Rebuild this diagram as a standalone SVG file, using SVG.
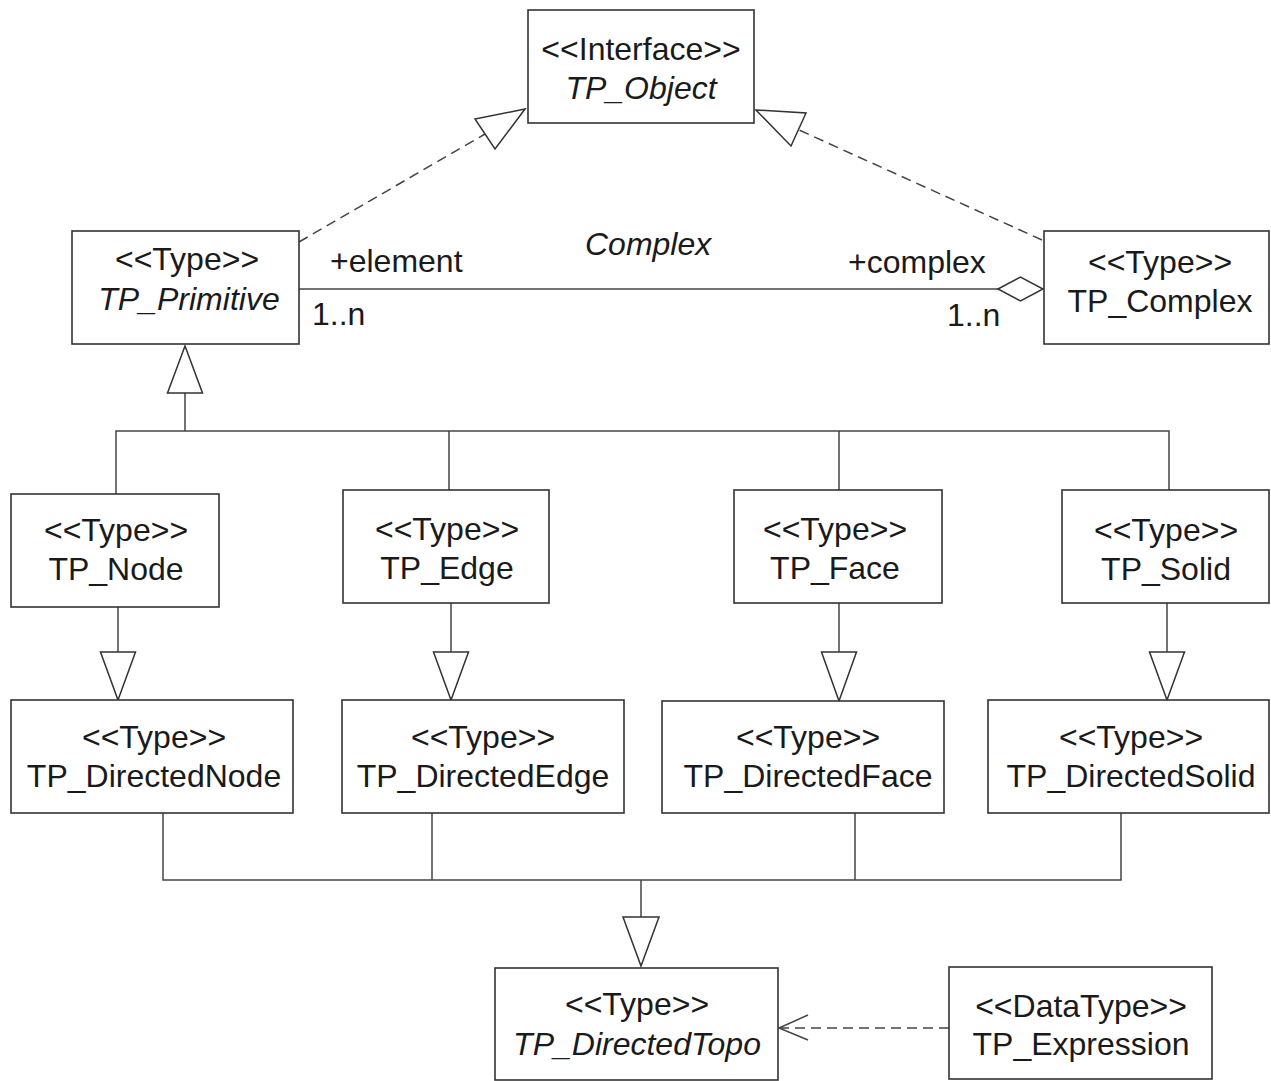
<svg xmlns="http://www.w3.org/2000/svg" width="1271" height="1081" viewBox="0 0 1271 1081">
  <style>
    .box { fill: #ffffff; stroke: #333333; stroke-width: 1.6; }
    .t { font-family: "Liberation Sans", Arial, sans-serif; font-size: 32px; fill: #1a1a1a; text-anchor: middle; }
    .i { font-style: italic; }
    .lbl { font-family: "Liberation Sans", Arial, sans-serif; font-size: 32px; fill: #1a1a1a; }
    .ln { fill: none; stroke: #444444; stroke-width: 1.5; }
    .dash { fill: none; stroke: #444444; stroke-width: 1.5; stroke-dasharray: 10 6; }
    .tri { fill: #ffffff; stroke: #333333; stroke-width: 1.5; stroke-linejoin: miter; }
  </style>

  <!-- connectors -->
  <g id="connectors">
    <!-- realization: TP_Primitive -> TP_Object -->
    <line class="dash" x1="299" y1="242" x2="485" y2="134"/>
    <polygon class="tri" points="525,109 475,119 495,149"/>
    <!-- realization: TP_Complex -> TP_Object -->
    <line class="dash" x1="1042" y1="240" x2="799" y2="130"/>
    <polygon class="tri" points="756,110 806,113 791,146"/>

    <!-- association Complex (aggregation at TP_Complex) -->
    <line class="ln" x1="299" y1="289" x2="998" y2="289"/>
    <polygon class="tri" points="998,289 1020.5,277 1043,289 1020.5,301"/>
    <text class="lbl i" x="585" y="255">Complex</text>
    <text class="lbl" x="330" y="272">+element</text>
    <text class="lbl" x="312" y="325">1..n</text>
    <text class="lbl" x="848" y="273">+complex</text>
    <text class="lbl" x="947" y="326">1..n</text>

    <!-- generalization tree to TP_Primitive -->
    <polyline class="ln" points="116,494 116,431 1169,431 1169,490"/>
    <line class="ln" x1="449" y1="431" x2="449" y2="490"/>
    <line class="ln" x1="839" y1="431" x2="839" y2="490"/>
    <line class="ln" x1="185" y1="431" x2="185" y2="393"/>
    <polygon class="tri" points="185,346 167.5,393 202.5,393"/>

    <!-- generalizations: directed types -> base types -->
    <line class="ln" x1="118" y1="607" x2="118" y2="652"/>
    <polygon class="tri" points="100.5,652 135.5,652 118,700"/>
    <line class="ln" x1="451" y1="603" x2="451" y2="652"/>
    <polygon class="tri" points="433.5,652 468.5,652 451,700"/>
    <line class="ln" x1="839" y1="603" x2="839" y2="652"/>
    <polygon class="tri" points="821.5,652 856.5,652 839,701"/>
    <line class="ln" x1="1167" y1="603" x2="1167" y2="652"/>
    <polygon class="tri" points="1149.5,652 1184.5,652 1167,700"/>

    <!-- generalization tree to TP_DirectedTopo -->
    <polyline class="ln" points="163,813 163,880 1121,880 1121,813"/>
    <line class="ln" x1="432" y1="813" x2="432" y2="880"/>
    <line class="ln" x1="855" y1="813" x2="855" y2="880"/>
    <line class="ln" x1="641" y1="880" x2="641" y2="917"/>
    <polygon class="tri" points="623,917 659,917 641,966"/>

    <!-- dependency: TP_Expression -> TP_DirectedTopo -->
    <line class="dash" x1="949" y1="1028" x2="779" y2="1028"/>
    <polyline class="ln" points="808,1015 779,1028 808,1040"/>
  </g>

  <g id="TP_Object">
    <rect class="box" x="528" y="10" width="226" height="113"/>
    <text class="t" x="641" y="60">&lt;&lt;Interface&gt;&gt;</text>
    <text class="t i" x="641" y="99">TP_Object</text>
  </g>

  <g id="TP_Primitive">
    <rect class="box" x="72" y="231" width="227" height="113"/>
    <text class="t" x="187" y="270">&lt;&lt;Type&gt;&gt;</text>
    <text class="t i" x="189" y="310">TP_Primitive</text>
  </g>

  <g id="TP_Complex">
    <rect class="box" x="1044" y="231" width="225" height="113"/>
    <text class="t" x="1160" y="273">&lt;&lt;Type&gt;&gt;</text>
    <text class="t" x="1160" y="312">TP_Complex</text>
  </g>

  <g id="TP_Node">
    <rect class="box" x="11" y="494" width="208" height="113"/>
    <text class="t" x="116" y="541">&lt;&lt;Type&gt;&gt;</text>
    <text class="t" x="116" y="580">TP_Node</text>
  </g>

  <g id="TP_Edge">
    <rect class="box" x="343" y="490" width="206" height="113"/>
    <text class="t" x="447" y="540">&lt;&lt;Type&gt;&gt;</text>
    <text class="t" x="447" y="579">TP_Edge</text>
  </g>

  <g id="TP_Face">
    <rect class="box" x="734" y="490" width="208" height="113"/>
    <text class="t" x="835" y="540">&lt;&lt;Type&gt;&gt;</text>
    <text class="t" x="835" y="579">TP_Face</text>
  </g>

  <g id="TP_Solid">
    <rect class="box" x="1062" y="490" width="207" height="113"/>
    <text class="t" x="1166" y="541">&lt;&lt;Type&gt;&gt;</text>
    <text class="t" x="1166" y="580">TP_Solid</text>
  </g>

  <g id="TP_DirectedNode">
    <rect class="box" x="11" y="700" width="282" height="113"/>
    <text class="t" x="154" y="748">&lt;&lt;Type&gt;&gt;</text>
    <text class="t" x="154" y="787">TP_DirectedNode</text>
  </g>

  <g id="TP_DirectedEdge">
    <rect class="box" x="342" y="700" width="282" height="113"/>
    <text class="t" x="483" y="748">&lt;&lt;Type&gt;&gt;</text>
    <text class="t" x="483" y="787">TP_DirectedEdge</text>
  </g>

  <g id="TP_DirectedFace">
    <rect class="box" x="662" y="701" width="282" height="112"/>
    <text class="t" x="808" y="748">&lt;&lt;Type&gt;&gt;</text>
    <text class="t" x="808" y="787">TP_DirectedFace</text>
  </g>

  <g id="TP_DirectedSolid">
    <rect class="box" x="988" y="700" width="281" height="113"/>
    <text class="t" x="1131" y="748">&lt;&lt;Type&gt;&gt;</text>
    <text class="t" x="1131" y="787">TP_DirectedSolid</text>
  </g>

  <g id="TP_DirectedTopo">
    <rect class="box" x="495" y="968" width="283" height="112"/>
    <text class="t" x="637" y="1015">&lt;&lt;Type&gt;&gt;</text>
    <text class="t i" x="637" y="1055">TP_DirectedTopo</text>
  </g>

  <g id="TP_Expression">
    <rect class="box" x="949" y="967" width="263" height="112"/>
    <text class="t" x="1081" y="1017">&lt;&lt;DataType&gt;&gt;</text>
    <text class="t" x="1081" y="1055">TP_Expression</text>
  </g>
</svg>
